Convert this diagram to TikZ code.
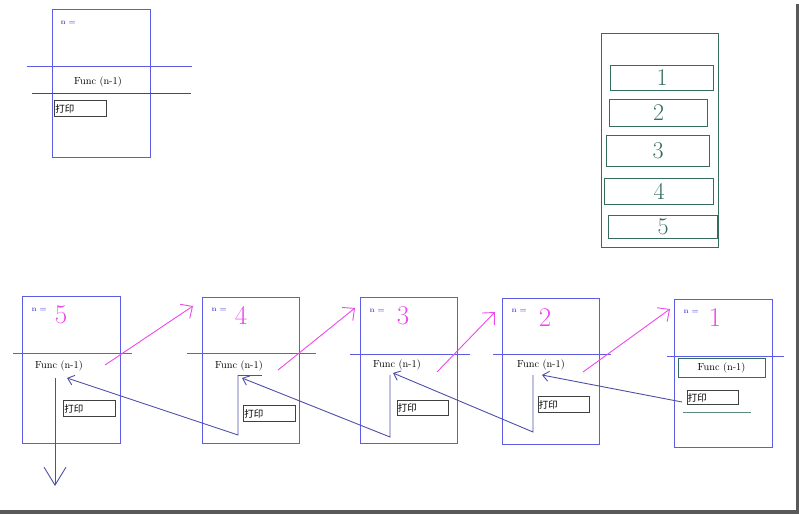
\documentclass[tikz,border=0pt]{standalone}
\usepackage{fontspec}
\usepackage{xcolor}
\usepackage{tikz}
\usetikzlibrary{arrows.meta, positioning, calc}
\newfontfamily\cjk{Noto Sans CJK SC}
\definecolor{frameblue}{RGB}{92, 92, 228}
\definecolor{backblue}{RGB}{78, 78, 168}
\definecolor{pen}{RGB}{236, 72, 236}
\definecolor{stackteal}{RGB}{52, 108, 94}

\begin{document}
\begin{tikzpicture}[
  x=1pt, y=-1pt,
  frame/.style={rectangle, draw=frameblue, line width=1pt, anchor=north west,
                inner sep=0pt, minimum width=97pt, minimum height=146pt},
  cut/.style={frameblue, line width=0.9pt},
  callfunc/.style={font=\fontsize{10.3}{11}\selectfont, inner sep=1pt},
  printbox/.style={rectangle, draw=black!75, line width=0.9pt, anchor=north west,
                   inner sep=0pt, minimum width=52pt, minimum height=16pt,
                   text width=50pt, align=left, font=\cjk\fontsize{9.5}{10}\selectfont},
  nlabel/.style={anchor=west, text=frameblue, font=\fontsize{7.5}{8}\selectfont\bfseries},
  digit/.style={text=pen, font=\fontsize{27}{27}\selectfont},
  cell/.style={rectangle, draw=stackteal, line width=1pt, anchor=north west, inner sep=0pt,
               text=stackteal, font=\fontsize{24}{24}\selectfont},
  go/.style={pen, line width=0.9pt, -{Straight Barb[length=9pt, width=17pt]}},
  back/.style={backblue, line width=0.9pt, -{Straight Barb[length=6pt, width=10pt]}}
]
  \useasboundingbox (0,0) rectangle (799,514);
  % page shadow
  \fill[black!65] (796,4) rectangle (799,514);
  \fill[black!65] (0,510) rectangle (799,514);

  % single frame, top left
  \node[frame, minimum width=98pt, minimum height=148pt] (tpl) at (52,9) {};
  \draw[cut] (27,66) -- (192,66);
  \draw[black!70, line width=0.9pt] (32,93) -- (191,93);
  \node[nlabel] (tpln) at (57,23) {n =};
  \node[callfunc] (tplc) at (98,82) {Func (n-1)};
  \node[printbox] (tplp) at (54,100) {打印};

  % stack
  \node[cell, minimum width=117pt, minimum height=214pt] (stack) at (601,33) {};
  \node[cell, minimum width=103pt, minimum height=25pt] (s1) at (610,65) {1};
  \node[cell, minimum width=98pt, minimum height=27pt] (s2) at (609,99) {2};
  \node[cell, minimum width=103pt, minimum height=31pt] (s3) at (606,135) {3};
  \node[cell, minimum width=109pt, minimum height=26pt] (s4) at (604,178) {4};
  \node[cell, minimum width=109pt, minimum height=23pt] (s5) at (608,215) {5};

  % frames of the calls
  \node[frame, minimum width=98pt, minimum height=147pt] (f5) at (22,296) {};
  \node[frame] (f4) at (202,297) {};
  \node[frame] (f3) at (360,297) {};
  \node[frame] (f2) at (502,298) {};
  \node[frame, minimum width=98pt, minimum height=148pt] (f1) at (674,299) {};

  \draw[cut] (13,353) -- (132,353);
  \draw[cut] (187,353) -- (316,353);
  \draw[cut] (350,354) -- (470,354);
  \draw[cut] (493,354) -- (611,354);
  \draw[cut] (667,356) -- (784,356);

  \node[nlabel] (n5) at (28,310) {n =};
  \node[nlabel] (n4) at (208,310) {n =};
  \node[nlabel] (n3) at (366,311) {n =};
  \node[nlabel] (n2) at (508,311) {n =};
  \node[nlabel] (n1) at (680,312) {n =};
  \node[digit] (d5) at (61,315) {5};
  \node[digit] (d4) at (241,315) {4};
  \node[digit] (d3) at (403,316) {3};
  \node[digit] (d2) at (545,318) {2};
  \node[digit] (d1) at (715,318) {1};

  \node[callfunc] (c5) at (59,366) {Func (n-1)};
  \node[callfunc] (c4) at (239,366) {Func (n-1)};
  \node[callfunc] (c3) at (397,365) {Func (n-1)};
  \node[callfunc] (c2) at (541,365) {Func (n-1)};
  \node[callfunc, draw=stackteal, line width=0.9pt, minimum width=87pt, minimum height=19pt]
    (c1) at (721.5,367.5) {Func (n-1)};

  \node[printbox] (p5) at (63,400) {打印};
  \node[printbox] (p4) at (243,405) {打印};
  \node[printbox, minimum width=51pt, minimum height=15pt] (p3) at (397,400) {打印};
  \node[printbox, minimum width=51pt] (p2) at (538,396) {打印};
  \node[printbox, minimum width=51pt, minimum height=14pt] (p1) at (687,390) {打印};
  \draw[stackteal!80, line width=1pt] (683,412) -- (751,412);

  % calls going deeper
  \coordinate (g5) at (105,365); \coordinate (h4) at (193,306);
  \coordinate (g4) at (278,370); \coordinate (h3) at (355,308);
  \coordinate (g3) at (437,372); \coordinate (h2) at (495,312);
  \coordinate (g2) at (583,372); \coordinate (h1) at (670,309);
  \draw[go] (g5) -- (h4);
  \draw[go] (g4) -- (h3);
  \draw[go] (g3) -- (h2);
  \draw[go] (g2) -- (h1);

  % returns
  \coordinate (r5) at (67,378);  \coordinate (r4) at (242,378);
  \coordinate (r3) at (393,373); \coordinate (r2) at (542,375);
  \coordinate (u4) at (238,375); \coordinate (k4) at (238,435);
  \coordinate (u3) at (390,375); \coordinate (k3) at (390,437);
  \coordinate (u2) at (533,375); \coordinate (k2) at (533,432);
  \coordinate (k1) at (682,402);
  \draw[backblue, line width=0.9pt] (u4) -- (262,375);
  \draw[back] (k1) -- (r2);
  \draw[back] (u2) -- (k2) -- (r3);
  \draw[back] (u3) -- (k3) -- (r4);
  \draw[back] (u4) -- (k4) -- (r5);
  \coordinate (u5) at (55,378); \coordinate (out) at (55,486);
  \draw[backblue, line width=0.9pt, -{Straight Barb[length=18pt, width=22pt]}] (u5) -- (out);
\end{tikzpicture}
\end{document}
